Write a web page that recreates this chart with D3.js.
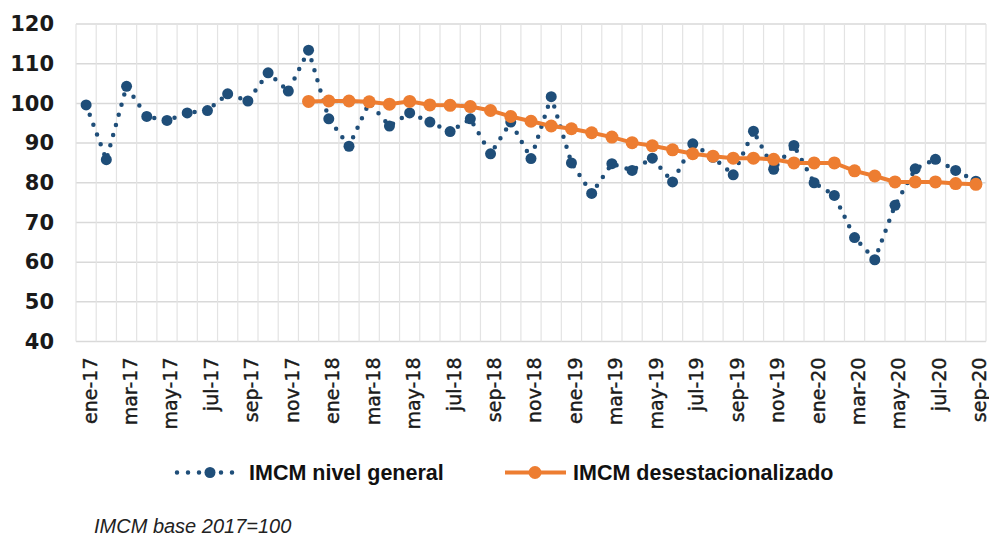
<!DOCTYPE html>
<html><head><meta charset="utf-8">
<script src="https://cdn.jsdelivr.net/npm/d3@7"></script>
<style>body{margin:0;background:#fff}svg{display:block}</style>
</head><body><svg id="c" width="989" height="536"></svg>
<script>
const months = ["ene","feb","mar","abr","may","jun","jul","ago","sep","oct","nov","dic"];
const years = ["17","18","19","20"];
const categories = [];
years.forEach(y => months.forEach(m => categories.push(m + "-" + y)));
categories.splice(45);
const nivelGeneral = [99.6,85.8,104.3,96.7,95.7,97.6,98.2,102.4,100.6,107.7,103.1,113.4,
  96.1,89.2,100.2,94.3,97.6,95.3,92.9,96.1,87.3,95.3,86.1,101.7,
  85.0,77.3,84.8,83.1,86.2,80.2,89.8,86.4,82.0,93.0,83.4,89.4,
  80.0,76.8,66.2,60.6,74.3,83.5,85.9,83.1,80.4];
const desestacionalizado = [null,null,null,null,null,null,null,null,null,null,null,100.5,
  100.6,100.6,100.4,99.8,100.5,99.6,99.5,99.2,98.2,96.7,95.5,94.3,
  93.6,92.6,91.5,90.1,89.3,88.3,87.3,86.7,86.2,86.2,85.9,85.0,
  85.0,85.0,83.0,81.7,80.2,80.2,80.2,79.8,79.6];
const yTicks = [40,50,60,70,80,90,100,110,120];
const seriesNames = ["IMCM nivel general","IMCM desestacionalizado"];
const footnote = "IMCM base 2017=100";

const svg = d3.select("#c");
const L = 76, R = 986, T = 24, B = 341.5;
const x = d3.scaleBand().domain(categories).range([L, R]).padding(0);
const y = d3.scaleLinear().domain([40,120]).range([B, T]);
const cx = d => x(d) + x.bandwidth()/2;

// horizontal grid
svg.append("g").selectAll("line").data(yTicks).join("line")
  .attr("x1", L).attr("x2", R).attr("y1", d => y(d)).attr("y2", d => y(d))
  .attr("stroke", "#d9d9d9").attr("stroke-width", 1.5);
// vertical grid (category boundaries)
const bounds = categories.map(c => x(c)).concat([R]);
svg.append("g").selectAll("line").data(bounds).join("line")
  .attr("x1", d => d).attr("x2", d => d).attr("y1", T).attr("y2", B)
  .attr("stroke", "#e3e3e3").attr("stroke-width", 1.2);

// y axis labels
const yAxis = d3.axisLeft(y).tickValues(yTicks).tickSize(0).tickPadding(0);
const gy = svg.append("g").attr("transform", `translate(54,0)`).call(yAxis);
gy.select(".domain").remove();
gy.selectAll("text").attr("font-family", "DejaVu Sans, sans-serif")
  .attr("font-weight", "bold").attr("font-size", 21).attr("fill", "#1a1a1a");

// x axis labels
const xAxis = d3.axisBottom(x).tickValues(categories.filter((c,i) => i % 2 === 0)).tickSize(0).tickPadding(0);
const gx = svg.append("g").attr("transform", `translate(0,${B})`).call(xAxis);
gx.select(".domain").remove();
gx.selectAll("text")
  .attr("font-family", "DejaVu Sans, sans-serif")
  .attr("font-size", 19).attr("fill", "#1a1a1a").attr("stroke", "#1a1a1a").attr("stroke-width", 0.4)
  .attr("transform", "rotate(-90)")
  .attr("text-anchor", "end").attr("dy", "0.55em").attr("x", -16).attr("y", 0);

const blue = "#1F4E79", orange = "#ED7D31";

// blue dotted line
const lineB = d3.line().x((d,i) => cx(categories[i])).y(d => y(d));
svg.append("path").datum(nivelGeneral).attr("d", lineB)
  .attr("fill", "none").attr("stroke", blue).attr("stroke-width", 4.5)
  .attr("stroke-linecap", "round").attr("stroke-dasharray", "0,10.5");

// orange line
const oData = desestacionalizado.map((v,i) => ({v, c: categories[i]})).filter(d => d.v !== null);
svg.append("path").datum(oData)
  .attr("d", d3.line().x(d => cx(d.c)).y(d => y(d.v)))
  .attr("fill", "none").attr("stroke", orange).attr("stroke-width", 4);

// blue markers
svg.append("g").selectAll("circle").data(nivelGeneral).join("circle")
  .attr("cx", (d,i) => cx(categories[i])).attr("cy", d => y(d)).attr("r", 5.5)
  .attr("fill", blue);
// orange markers
svg.append("g").selectAll("circle").data(oData).join("circle")
  .attr("cx", d => cx(d.c)).attr("cy", d => y(d.v)).attr("r", 6.5)
  .attr("fill", orange);

// legend
const ly = 472.5;
const lg = svg.append("g").attr("font-family", "Liberation Sans, Arial, sans-serif")
  .attr("font-weight", "bold").attr("font-size", 21.5).attr("fill", "#111");
lg.append("line").attr("x1", 177).attr("x2", 237).attr("y1", ly).attr("y2", ly)
  .attr("stroke", blue).attr("stroke-width", 4.5).attr("stroke-linecap", "round").attr("stroke-dasharray", "0,11");
lg.append("circle").attr("cx", 210).attr("cy", ly).attr("r", 5.5).attr("fill", blue);
lg.append("text").attr("x", 249).attr("y", ly).attr("dy", "0.36em").text(seriesNames[0]);
lg.append("line").attr("x1", 505).attr("x2", 566).attr("y1", ly).attr("y2", ly)
  .attr("stroke", orange).attr("stroke-width", 4);
lg.append("circle").attr("cx", 535).attr("cy", ly).attr("r", 6.5).attr("fill", orange);
lg.append("text").attr("x", 573).attr("y", ly).attr("dy", "0.36em").text(seriesNames[1]);

svg.append("text").attr("x", 94).attr("y", 526).attr("dy", "0.35em")
  .attr("font-family", "Liberation Sans, Arial, sans-serif").attr("font-style", "italic")
  .attr("font-size", 20).attr("fill", "#222").text(footnote);
</script></body></html>
